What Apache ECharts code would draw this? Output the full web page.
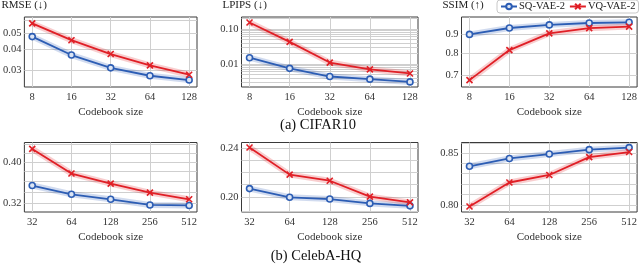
<!DOCTYPE html>
<html>
<head>
<meta charset="utf-8">
<script src="https://cdn.jsdelivr.net/npm/echarts@6.0.0/dist/echarts.min.js"></script>
<style>html,body{margin:0;padding:0;background:#fff}#c{width:640px;height:264px}</style>
</head>
<body>
<div id="c"></div>
<script>
// ---- data ----
const cifarCodebook = ['8', '16', '32', '64', '128'];
const celebCodebook = ['32', '64', '128', '256', '512'];
const seriesNames = ['SQ-VAE-2', 'VQ-VAE-2'];
const metricTitles = ['RMSE (↓)', 'LPIPS (↓)', 'SSIM (↑)'];
const captions = ['(a) CIFAR10', '(b) CelebA-HQ'];
const xAxisName = 'Codebook size';

const rmseCifarSQ = [0.0478, 0.0371, 0.0311, 0.0279, 0.0263];
const rmseCifarVQ = [0.0573, 0.0455, 0.0376, 0.0322, 0.0283];
const lpipsCifarSQ = [0.0150, 0.00744, 0.00435, 0.00365, 0.00305];
const lpipsCifarVQ = [0.153, 0.0426, 0.0109, 0.00696, 0.00532];
const ssimCifarSQ = [0.898, 0.934, 0.952, 0.963, 0.967];
const ssimCifarVQ = [0.679, 0.816, 0.904, 0.933, 0.942];
const rmseCelebSQ = [0.3518, 0.3355, 0.3265, 0.3166, 0.3157];
const rmseCelebVQ = [0.4293, 0.3755, 0.3556, 0.3386, 0.3265];
const lpipsCelebSQ = [0.2066, 0.2000, 0.1987, 0.1955, 0.1937];
const lpipsCelebVQ = [0.2410, 0.2177, 0.2128, 0.2005, 0.1962];
const ssimCelebSQ = [0.837, 0.8447, 0.849, 0.8534, 0.8554];
const ssimCelebVQ = [0.7988, 0.8214, 0.8286, 0.846, 0.851];

// y tick labels and gridline values (log-scaled axes)
const rmseCifarTicks = ['0.03', '0.04', '0.05'];
const rmseCifarGrid = [0.03, 0.04, 0.05, 0.06];
const lpipsCifarTicks = ['0.01', '0.10'];
const lpipsCifarGrid = [0.003, 0.004, 0.005, 0.006, 0.007, 0.008, 0.009, 0.01, 0.02, 0.03, 0.04, 0.05, 0.06, 0.07, 0.08, 0.09, 0.1, 0.2];
const ssimCifarTicks = ['0.7', '0.8', '0.9'];
const ssimCifarGrid = [0.7, 0.8, 0.9];
const rmseCelebTicks = ['0.32', '0.40'];
const rmseCelebGrid = [0.32, 0.34, 0.36, 0.38, 0.40, 0.42, 0.44];
const lpipsCelebTicks = ['0.20', '0.24'];
const lpipsCelebGrid = [0.19, 0.20, 0.21, 0.22, 0.23, 0.24];
const ssimCelebTicks = ['0.80', '0.85'];
const ssimCelebGrid = [0.80, 0.81, 0.82, 0.83, 0.84, 0.85, 0.86];

// y ranges (real units)
const rmseCifarRange = [0.0239, 0.0626];
const lpipsCifarRange = [0.00218, 0.219];
const ssimCifarRange = [0.651, 0.999];
const rmseCelebRange = [0.3047, 0.4445];
const lpipsCelebRange = [0.1893, 0.2455];
const ssimCelebRange = [0.7937, 0.8605];

// ---- layout / styles ----
const FONT = '"Liberation Serif", "DejaVu Serif", serif';
const BLUE = '#2c5db4';
const RED = '#e01f26';
const BLUE_BAND = 'rgba(44,93,180,0.22)';
const RED_BAND = 'rgba(224,31,38,0.22)';
const colLeft = [20.5, 241.5, 461.5];
const rowTop = [17, 142.5];
const rowH = [70, 69.5];
const plotW = 176.5;

const panels = [
  {r: 0, c: 0, cats: cifarCodebook, sq: rmseCifarSQ, vq: rmseCifarVQ, ticks: rmseCifarTicks, grid: rmseCifarGrid, range: rmseCifarRange},
  {r: 0, c: 1, cats: cifarCodebook, sq: lpipsCifarSQ, vq: lpipsCifarVQ, ticks: lpipsCifarTicks, grid: lpipsCifarGrid, range: lpipsCifarRange},
  {r: 0, c: 2, cats: cifarCodebook, sq: ssimCifarSQ, vq: ssimCifarVQ, ticks: ssimCifarTicks, grid: ssimCifarGrid, range: ssimCifarRange},
  {r: 1, c: 0, cats: celebCodebook, sq: rmseCelebSQ, vq: rmseCelebVQ, ticks: rmseCelebTicks, grid: rmseCelebGrid, range: rmseCelebRange},
  {r: 1, c: 1, cats: celebCodebook, sq: lpipsCelebSQ, vq: lpipsCelebVQ, ticks: lpipsCelebTicks, grid: lpipsCelebGrid, range: lpipsCelebRange},
  {r: 1, c: 2, cats: celebCodebook, sq: ssimCelebSQ, vq: ssimCelebVQ, ticks: ssimCelebTicks, grid: ssimCelebGrid, range: ssimCelebRange}
];

const grids = [], xAxes = [], yAxes = [], series = [];
const X_SYMBOL = 'path://M0,0L10,10M10,0L0,10';

panels.forEach((p, i) => {
  grids.push({
    left: colLeft[p.c], top: rowTop[p.r], width: plotW, height: rowH[p.r],
    show: true, borderColor: '#3a3a3a', borderWidth: 1, backgroundColor: '#fff'
  });
  const idx = p.cats.map((_, k) => k);
  xAxes.push({
    gridIndex: i, type: 'value', min: -0.2, max: 4.2,
    axisLine: {show: false},
    axisTick: {show: false, customValues: idx},
    axisLabel: {customValues: idx, formatter: v => p.cats[Math.round(v)], fontFamily: FONT, fontSize: 10.5, color: '#333', margin: 5},
    splitLine: {show: true, lineStyle: {color: '#cfcfcf', width: 1}},
    name: xAxisName, nameLocation: 'middle', nameGap: 20,
    nameTextStyle: {fontFamily: FONT, fontSize: 11, color: '#333'}
  });
  const lnTicks = p.ticks.map(t => Math.log(parseFloat(t)));
  yAxes.push({
    gridIndex: i, type: 'value',
    min: Math.log(p.range[0]), max: Math.log(p.range[1]),
    axisLine: {show: false},
    axisTick: {show: false, customValues: p.grid.map(v => Math.log(v))},
    axisLabel: {
      customValues: lnTicks,
      formatter: v => { const k = lnTicks.findIndex(t => Math.abs(t - v) < 1e-4); return k >= 0 ? p.ticks[k] : ''; },
      fontFamily: FONT, fontSize: 10.5, color: '#333', margin: 3
    },
    splitLine: {show: true, lineStyle: {color: '#cfcfcf', width: 1}}
  });
  const toData = arr => arr.map((v, k) => [k, Math.log(v)]);
  series.push({
    name: 'band-sq', type: 'line', xAxisIndex: i, yAxisIndex: i, data: toData(p.sq),
    symbol: 'none', silent: true, z: 1, lineStyle: {color: BLUE_BAND, width: 6}
  });
  series.push({
    name: 'band-vq', type: 'line', xAxisIndex: i, yAxisIndex: i, data: toData(p.vq),
    symbol: 'none', silent: true, z: 1, lineStyle: {color: RED_BAND, width: 6}
  });
  series.push({
    name: seriesNames[0], type: 'line', xAxisIndex: i, yAxisIndex: i, data: toData(p.sq),
    symbol: 'circle', symbolSize: 6, z: 3,
    lineStyle: {color: BLUE, width: 1.8},
    itemStyle: {color: '#dce5f4', borderColor: BLUE, borderWidth: 1.6}
  });
  series.push({
    name: seriesNames[1], type: 'line', xAxisIndex: i, yAxisIndex: i, data: toData(p.vq),
    symbol: X_SYMBOL, symbolSize: 6, z: 4,
    lineStyle: {color: RED, width: 1.8},
    itemStyle: {color: RED, borderColor: RED, borderWidth: 1.6}
  });
});

const graphics = [];
metricTitles.forEach((t, c) => {
  graphics.push({type: 'text', left: colLeft[c] - 19, top: 0,
    style: {text: t, font: '11px ' + FONT, fill: '#222'}});
});
graphics.push({type: 'text', x: 318, y: 125, style: {text: captions[0], font: '14.5px ' + FONT, fill: '#111', textAlign: 'center', textVerticalAlign: 'middle'}});
graphics.push({type: 'text', x: 316, y: 256, style: {text: captions[1], font: '14.5px ' + FONT, fill: '#111', textAlign: 'center', textVerticalAlign: 'middle'}});

const chart = echarts.init(document.getElementById('c'), null, {renderer: 'canvas'});
chart.setOption({
  animation: false,
  backgroundColor: '#fff',
  grid: grids, xAxis: xAxes, yAxis: yAxes, series: series,
  legend: {
    data: seriesNames, orient: 'horizontal', left: 497, top: 0, width: 300,
    padding: [1, 3], itemGap: 4,
    itemWidth: 16, itemHeight: 7,
    backgroundColor: '#fff', borderColor: '#c8c8c8', borderWidth: 1, borderRadius: 3,
    textStyle: {fontFamily: FONT, fontSize: 10.5, color: '#222', padding: [0, 0, 0, -3]}
  },
  graphic: graphics
});
</script>
</body>
</html>
